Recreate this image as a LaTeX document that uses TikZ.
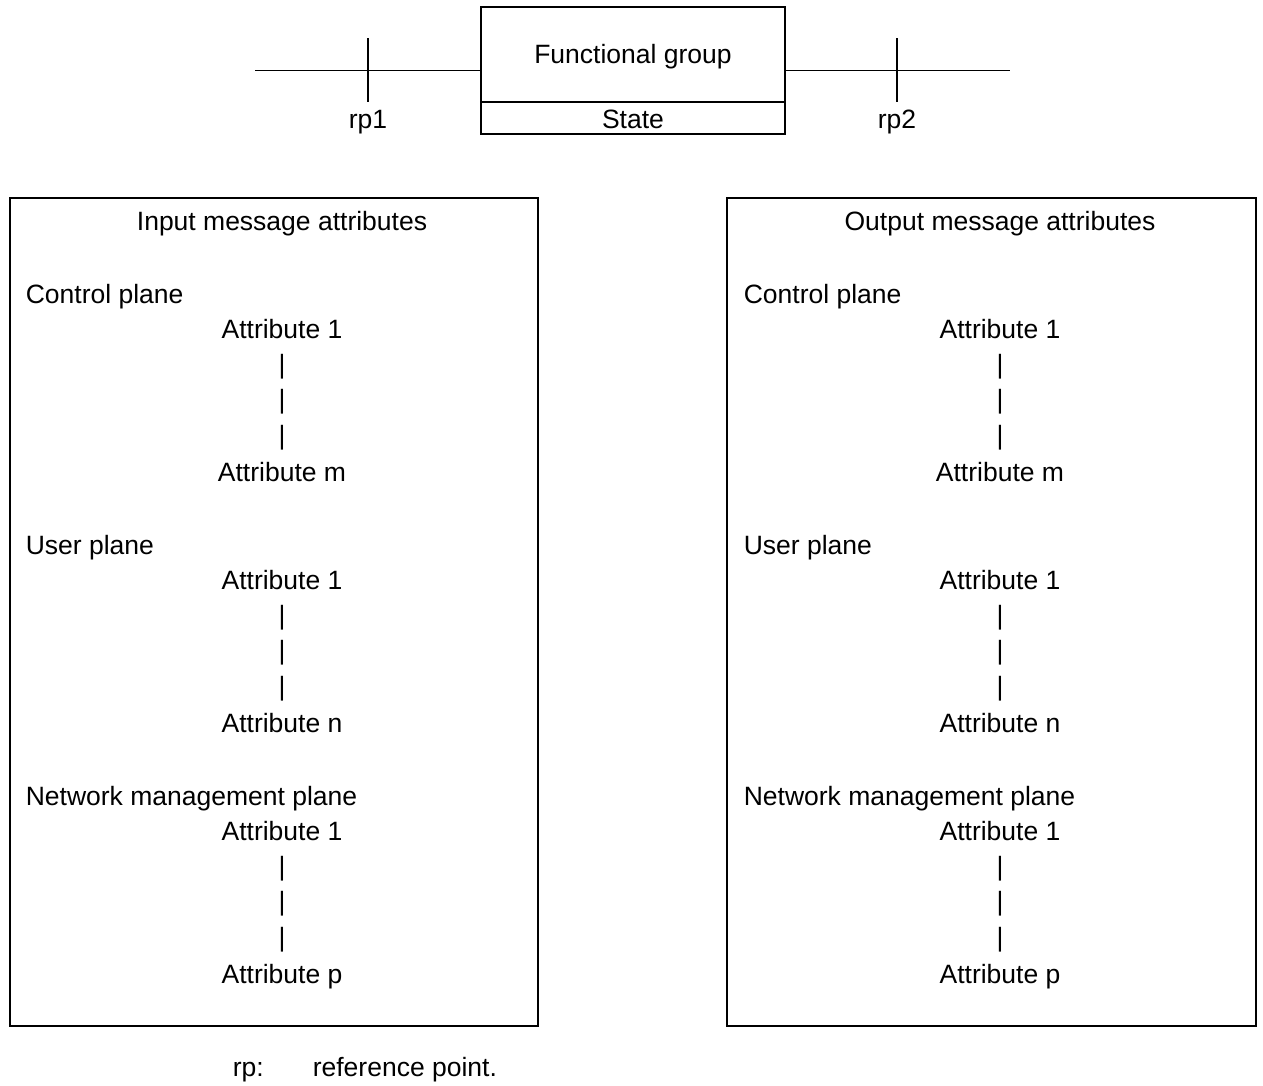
\documentclass[tikz,border=0pt]{standalone}
\usepackage{fontspec}
\setmainfont{Liberation Sans}
\begin{document}
\begin{tikzpicture}[x=1pt,y=-1pt,
  line width=1.6pt,
  txt/.style={anchor=base,inner sep=0pt,font=\fontsize{26.5}{31}\selectfont},
  ltxt/.style={txt,anchor=base west},
  frame/.style={draw,line width=1.6pt,inner sep=0pt}]
\useasboundingbox (0,0) rectangle (1263,1085);
% top functional group
\node[frame,minimum width=304pt,minimum height=127pt] (fg) at (633,70.5) {};
\coordinate (dl) at (481,102);
\coordinate (dr) at (785,102);
\draw (dl) -- (dr);
\node[txt] (fgt) at (633,63) {Functional group};
\node[txt] (st) at (633,128) {State};
\coordinate (l1) at (255,70.5);
\coordinate (r1) at (1010,70.5);
\draw (l1) -- (fg.west);
\draw (fg.east) -- (r1);
\coordinate (t1a) at (368,38);
\coordinate (t1b) at (368,102);
\coordinate (t2a) at (897,38);
\coordinate (t2b) at (897,102);
\draw (t1a) -- (t1b);
\draw (t2a) -- (t2b);
\node[txt] (rp1) at (368,128) {rp1};
\node[txt] (rp2) at (897,128) {rp2};
% boxes
\node[frame,minimum width=528pt,minimum height=828pt] (inbox) at (274,612) {};
\node[frame,minimum width=529pt,minimum height=828pt] (outbox) at (991.5,612) {};
\foreach \side/\cx/\lx/\ttl in {in/282/25/Input,out/1000/743/Output}{
  \node[txt] (\side title) at (\cx,230) {\ttl{} message attributes};
  \node[ltxt] (\side cp) at (\lx,303) {Control plane};
  \node[txt] (\side cpa) at (\cx,338) {Attribute 1};
  \node[txt] (\side cpb1) at (\cx,373) {|};
  \node[txt] (\side cpb2) at (\cx,408) {|};
  \node[txt] (\side cpb3) at (\cx,444) {|};
  \node[txt] (\side cpz) at (\cx,481) {Attribute m};
  \node[ltxt] (\side up) at (\lx,554) {User plane};
  \node[txt] (\side upa) at (\cx,589) {Attribute 1};
  \node[txt] (\side upb1) at (\cx,624) {|};
  \node[txt] (\side upb2) at (\cx,659) {|};
  \node[txt] (\side upb3) at (\cx,695) {|};
  \node[txt] (\side upz) at (\cx,732) {Attribute n};
  \node[ltxt] (\side np) at (\lx,805) {Network management plane};
  \node[txt] (\side npa) at (\cx,840) {Attribute 1};
  \node[txt] (\side npb1) at (\cx,875) {|};
  \node[txt] (\side npb2) at (\cx,910) {|};
  \node[txt] (\side npb3) at (\cx,946) {|};
  \node[txt] (\side npz) at (\cx,983) {Attribute p};
}
\node[ltxt] (rpk) at (232,1076) {rp:};
\node[ltxt] (rpv) at (312,1076) {reference point.};
\end{tikzpicture}
\end{document}
